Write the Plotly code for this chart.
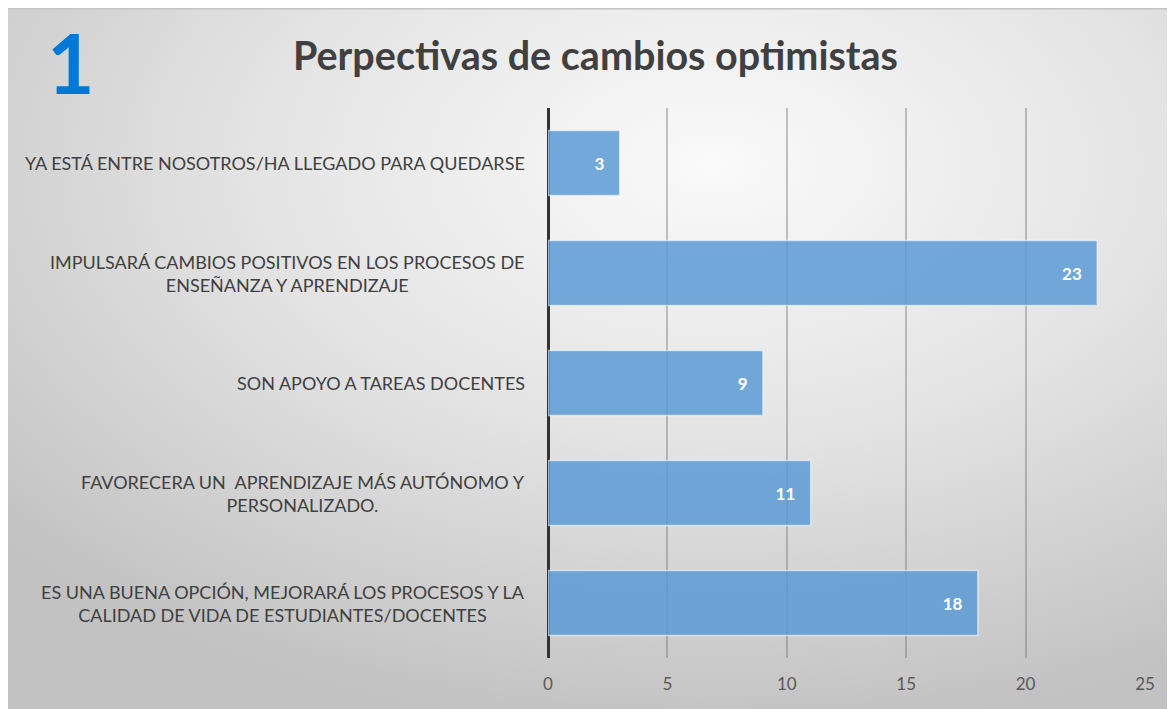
import base64
import plotly.graph_objects as go

# data, top to bottom as in the chart
categorias = [
    "YA ESTÁ ENTRE NOSOTROS/HA LLEGADO PARA QUEDARSE",
    "IMPULSARÁ CAMBIOS POSITIVOS EN LOS PROCESOS DE<br>ENSEÑANZA Y APRENDIZAJE",
    "SON APOYO A TAREAS DOCENTES",
    "FAVORECERA UN  APRENDIZAJE MÁS AUTÓNOMO Y<br>PERSONALIZADO.",
    "ES UNA BUENA OPCIÓN, MEJORARÁ LOS PROCESOS Y LA<br>CALIDAD DE VIDA DE ESTUDIANTES/DOCENTES",
]
respuestas = [3, 23, 9, 11, 18]
x_ticks = [0, 5, 10, 15, 20, 25]

# page has an 8px body margin, so figure coords = page coords - 8
W, H = 1175, 709
ml, mr, mt, mb = 540, 38, 100, 59
pw, ph = W - ml - mr, H - mt - mb


def px(x):
    return (x - 8 - ml) / pw


def py(y):
    return (H - mb - (y - 8)) / ph


# gradient backdrop as an inline svg
svg = f"""<svg xmlns='http://www.w3.org/2000/svg' width='{W}' height='{H}'>
<defs><radialGradient id='g' cx='0.6' cy='0.22' r='0.8'>
<stop offset='0' stop-color='#fafafa'/><stop offset='0.5' stop-color='#e3e3e3'/>
<stop offset='1' stop-color='#c2c2c2'/></radialGradient></defs>
<rect width='{W}' height='{H}' fill='url(#g)'/>
<line x1='0' y1='0.5' x2='{W}' y2='0.5' stroke='#c4c4c4' stroke-width='2'/>
</svg>"""
bg_src = "data:image/svg+xml;base64," + base64.b64encode(svg.encode()).decode()

fig = go.Figure()
fig.add_trace(go.Bar(
    y=categorias, x=respuestas, orientation="h",
    marker=dict(color="rgba(91,155,213,0.85)",
                line=dict(color="rgba(255,255,255,0.55)", width=1.5)),
    width=0.59,
    text=[f"{v}\u00a0\u00a0\u00a0" for v in respuestas],
    textposition="inside", insidetextanchor="end",
    textfont=dict(family="Lato", size=17, color="white", weight="bold"),
    cliponaxis=False, hoverinfo="skip",
))

# category labels, centred lines, right edge just left of the axis
for c in categorias:
    fig.add_annotation(
        x=px(527), xref="paper", y=c, yref="y", text=c, showarrow=False,
        xanchor="right", align="center",
        font=dict(family="Lato", size=18, color="#404040"),
    )

fig.add_annotation(
    x=px(595), xref="paper", y=py(55), yref="paper",
    xanchor="center", yanchor="middle",
    text="<b>Perpectivas de cambios optimistas</b>", showarrow=False,
    font=dict(family="Lato", size=39.5, color="#404040"),
)
fig.add_annotation(
    x=px(71), xref="paper", y=py(62), yref="paper",
    xanchor="center", yanchor="middle",
    text="<b>1</b>", showarrow=False,
    font=dict(family="Lato", size=82, color="#0078d7"),
)

fig.add_layout_image(
    source=bg_src, xref="paper", yref="paper",
    x=-ml / pw, y=(H - mb) / ph, sizex=W / pw, sizey=H / ph,
    xanchor="left", yanchor="top", sizing="stretch", layer="below",
)

fig.update_layout(
    width=W, height=H,
    margin=dict(l=ml, r=mr, t=mt, b=mb),
    paper_bgcolor="white", plot_bgcolor="rgba(0,0,0,0)",
    showlegend=False,
    xaxis=dict(
        range=[0, 25], tickvals=x_ticks, showgrid=True,
        gridcolor="rgba(110,110,110,0.4)", gridwidth=1.5,
        zeroline=True, zerolinecolor="#333333", zerolinewidth=3,
        showline=False, ticklabelstandoff=14,
        tickfont=dict(family="Lato", size=17, color="#595959"),
    ),
    yaxis=dict(
        autorange="reversed", showticklabels=False, showgrid=False,
        zeroline=False, showline=False,
    ),
)

fig.write_html("out.html")
